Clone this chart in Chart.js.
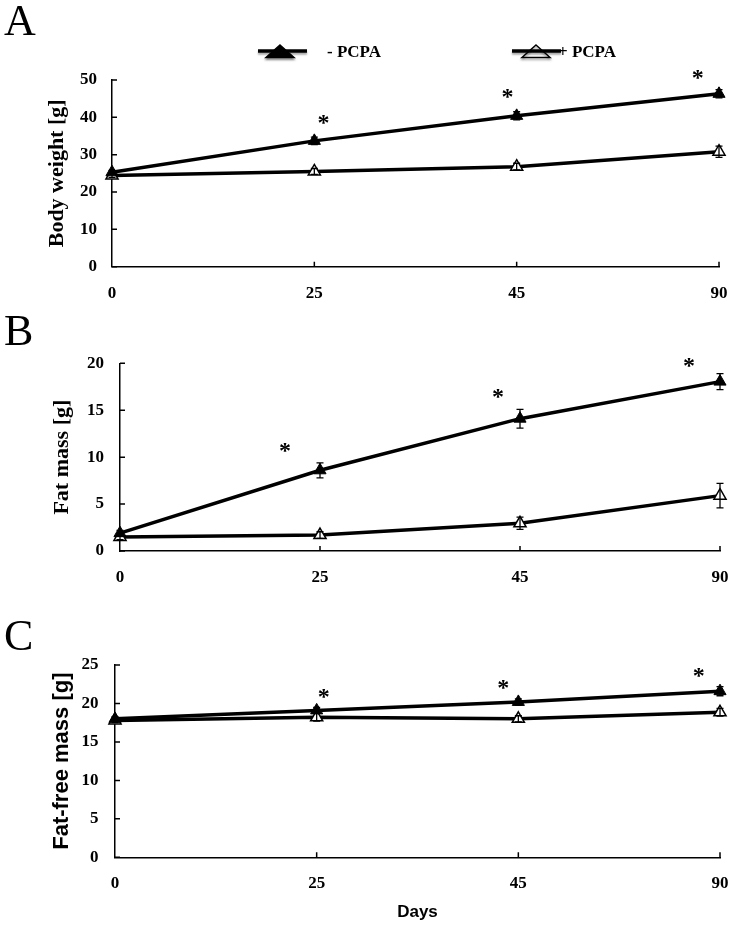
<!DOCTYPE html>
<html><head><meta charset="utf-8">
<script src="https://cdn.jsdelivr.net/npm/chart.js@4/dist/chart.umd.min.js"></script>
<style>
html,body{margin:0;padding:0;background:#fff}
body{width:745px;height:930px;position:relative;overflow:hidden}
canvas.p{position:absolute;left:0}
</style></head><body>
<canvas id="cA" class="p" style="top:0px" width="745" height="310"></canvas>
<canvas id="cB" class="p" style="top:310px" width="745" height="290"></canvas>
<canvas id="cC" class="p" style="top:600px" width="745" height="330"></canvas>
<script>
// ---- data ----
const days = ['0', '25', '45', '90'];
const seriesNames = ['- PCPA', '+ PCPA'];

const bodyWeightMinus   = [25.3, 33.7, 40.4, 46.3];
const bodyWeightMinusSE = [0.5, 1.0, 1.1, 1.1];
const bodyWeightPlus    = [24.4, 25.5, 26.8, 30.8];
const bodyWeightPlusSE  = [0.5, 0.8, 0.9, 1.5];
const bodyWeightStarX   = [1.04, 1.95, 2.89];
const bodyWeightStarY   = [39.3, 46.4, 51.4];

const fatMassMinus   = [1.9, 8.6, 14.1, 18.05];
const fatMassMinusSE = [0.3, 0.8, 1.0, 0.85];
const fatMassPlus    = [1.5, 1.7, 2.95, 5.9];
const fatMassPlusSE  = [0.3, 0.35, 0.65, 1.3];
const fatMassStarX   = [0.82, 1.885, 2.84];
const fatMassStarY   = [11.05, 16.8, 20.1];

const fatFreeMinus   = [18.0, 19.1, 20.2, 21.6];
const fatFreeMinusSE = [0.3, 0.4, 0.4, 0.6];
const fatFreePlus    = [17.8, 18.2, 18.0, 18.85];
const fatFreePlusSE  = [0.3, 0.5, 0.4, 0.5];
const fatFreeStarX   = [1.03, 1.92, 2.89];
const fatFreeStarY   = [21.3, 22.4, 24.05];

const SERIF = "'Liberation Serif', 'Times New Roman', serif";
const SANS = "'Liberation Sans', Arial, sans-serif";

// ---- plugins ----
const errorBarPlugin = {
  id: 'errorBars',
  afterDatasetsDraw(chart) {
    const ctx = chart.ctx, y = chart.scales.y;
    chart.data.datasets.forEach((ds, di) => {
      if (!ds.errors) return;
      const meta = chart.getDatasetMeta(di);
      ctx.save();
      ctx.strokeStyle = '#000'; ctx.lineWidth = 1.3;
      meta.data.forEach((pt, i) => {
        const v = ds.data[i].y, e = ds.errors[i];
        const yt = y.getPixelForValue(v + e), yb = y.getPixelForValue(v - e);
        ctx.beginPath();
        ctx.moveTo(pt.x, yt); ctx.lineTo(pt.x, yb);
        ctx.moveTo(pt.x - 3.5, yt); ctx.lineTo(pt.x + 3.5, yt);
        ctx.moveTo(pt.x - 3.5, yb); ctx.lineTo(pt.x + 3.5, yb);
        ctx.stroke();
      });
      ctx.restore();
    });
  }
};

const inwardTicksPlugin = {
  id: 'inwardTicks',
  afterDraw(chart) {
    const ctx = chart.ctx, a = chart.chartArea, x = chart.scales.x, y = chart.scales.y;
    ctx.save();
    ctx.strokeStyle = '#000'; ctx.lineWidth = 1.5;
    ctx.beginPath();
    y.ticks.forEach(t => {
      const py = y.getPixelForValue(t.value);
      ctx.moveTo(a.left, py); ctx.lineTo(a.left + 5, py);
    });
    x.ticks.forEach(t => {
      if (t.value === 0) return;
      const px = x.getPixelForValue(t.value);
      ctx.moveTo(px, a.bottom); ctx.lineTo(px, a.bottom - 5);
    });
    ctx.stroke();
    ctx.restore();
  }
};

const starsPlugin = {
  id: 'stars',
  afterDatasetsDraw(chart, args, opts) {
    if (!opts || !opts.xs) return;
    const ctx = chart.ctx, x = chart.scales.x, y = chart.scales.y;
    ctx.save();
    ctx.fillStyle = '#000';
    ctx.font = 'bold 24px ' + SERIF;
    ctx.textAlign = 'left'; ctx.textBaseline = 'alphabetic';
    const m = ctx.measureText('*');
    const cx = (m.actualBoundingBoxRight - m.actualBoundingBoxLeft) / 2 - m.actualBoundingBoxRight;
    const cy = (m.actualBoundingBoxAscent - m.actualBoundingBoxDescent) / 2;
    opts.xs.forEach((sx, i) => {
      const px = x.getPixelForValue(sx), py = y.getPixelForValue(opts.ys[i]);
      ctx.fillText('*', px + cx, py + cy);
    });
    ctx.restore();
  }
};

const decorPlugin = {
  id: 'decor',
  afterDraw(chart, args, opts) {
    const ctx = chart.ctx;
    ctx.save();
    ctx.fillStyle = '#000';
    ctx.font = '44px ' + SERIF;
    ctx.textBaseline = 'alphabetic'; ctx.textAlign = 'left';
    ctx.fillText(opts.letter, 4, opts.letterBaseline);
    if (opts.legend) {
      const items = [
        {x0: 258, x1: 307, tx: 280, filled: true, textX: 327, text: seriesNames[0]},
        {x0: 512, x1: 561, tx: 536, filled: false, textX: 558, text: seriesNames[1]}
      ];
      items.forEach(it => {
        ctx.save();
        ctx.shadowColor = 'rgba(0,0,0,0.35)'; ctx.shadowBlur = 2; ctx.shadowOffsetY = 2;
        ctx.strokeStyle = '#000'; ctx.lineWidth = 3.5;
        ctx.beginPath(); ctx.moveTo(it.x0, 51); ctx.lineTo(it.x1, 51); ctx.stroke();
        ctx.beginPath();
        ctx.moveTo(it.tx, 45); ctx.lineTo(it.tx + 14, 57.5); ctx.lineTo(it.tx - 14, 57.5); ctx.closePath();
        if (it.filled) { ctx.fillStyle = '#000'; ctx.fill(); }
        ctx.lineWidth = 1.5; ctx.stroke();
        ctx.restore();
        ctx.font = 'bold 17px ' + SERIF;
        ctx.fillText(it.text, it.textX, 56.5);
      });
    }
    ctx.restore();
  }
};

function makePanel(id, g) {
  const canvas = document.getElementById(id);
  const H = canvas.height, W = canvas.width;
  const toPts = arr => arr.map((v, i) => ({x: i, y: v}));
  const tickFont = {family: SERIF, size: 17, weight: 'bold'};
  new Chart(canvas, {
    type: 'line',
    data: {
      datasets: [
        {label: seriesNames[0], data: toPts(g.minus), errors: g.minusSE,
         borderColor: '#000', borderWidth: 3.5, pointStyle: 'triangle', pointRadius: 7,
         pointBackgroundColor: '#000', pointBorderColor: '#000', pointBorderWidth: 1, tension: 0, clip: false},
        {label: seriesNames[1], data: toPts(g.plus), errors: g.plusSE,
         borderColor: '#000', borderWidth: 3.5, pointStyle: 'triangle', pointRadius: 7,
         pointBackgroundColor: '#fff', pointBorderColor: '#000', pointBorderWidth: 1.5, tension: 0, clip: false}
      ]
    },
    options: {
      responsive: false, animation: false, events: [],
      layout: {padding: {top: g.top, right: W - g.right, left: 0, bottom: 0}},
      plugins: {
        legend: {display: false}, tooltip: {enabled: false},
        stars: {xs: g.starX, ys: g.starY},
        decor: {letter: g.letter, letterBaseline: g.letterBaseline, legend: !!g.legend}
      },
      scales: {
        x: {
          type: 'linear', min: 0, max: 3,
          afterFit(s) { s.height = H - g.bottom; },
          ticks: {stepSize: 1, autoSkip: false, maxRotation: 0, color: '#000', font: tickFont,
                  padding: 16.5, callback: v => days[v]},
          grid: {display: false, drawTicks: false},
          border: {display: true, color: '#000', width: 1.5},
          title: g.xTitle ? {display: true, text: g.xTitle, color: '#000',
                  font: {family: SANS, size: 17, weight: 'bold'}, padding: {top: 0, bottom: g.xTitlePad}} : {display: false}
        },
        y: {
          min: 0, max: g.yMax,
          afterFit(s) { s.width = g.left; },
          ticks: {stepSize: g.yStep, color: '#000', font: tickFont, padding: g.yPad},
          grid: {display: false, drawTicks: false},
          border: {display: true, color: '#000', width: 1.5},
          title: {display: true, text: g.yTitle, color: '#000',
                  font: {family: g.yTitleFamily, size: 22, weight: 'bold'},
                  padding: {top: g.yTitleX - 13.2, bottom: 0}}
        }
      }
    },
    plugins: [errorBarPlugin, inwardTicksPlugin, starsPlugin, decorPlugin]
  });
}

makePanel('cA', {
  top: 80, bottom: 266.7, left: 112, right: 719, yMax: 50, yStep: 10, yPad: 15,
  yTitle: 'Body weight [g]', yTitleFamily: SERIF, yTitleX: 57,
  minus: bodyWeightMinus, minusSE: bodyWeightMinusSE, plus: bodyWeightPlus, plusSE: bodyWeightPlusSE,
  starX: bodyWeightStarX, starY: bodyWeightStarY, letter: 'A', letterBaseline: 35, legend: true
});
makePanel('cB', {
  top: 53.3, bottom: 241, left: 120, right: 721, yMax: 20, yStep: 5, yPad: 16,
  yTitle: 'Fat mass [g]', yTitleFamily: SERIF, yTitleX: 62,
  minus: fatMassMinus, minusSE: fatMassMinusSE, plus: fatMassPlus, plusSE: fatMassPlusSE,
  starX: fatMassStarX, starY: fatMassStarY, letter: 'B', letterBaseline: 35
});
makePanel('cC', {
  top: 65, bottom: 257.3, left: 115, right: 731.7, yMax: 25, yStep: 5, yPad: 16.5,
  yTitle: 'Fat-free mass [g]', yTitleFamily: SANS, yTitleX: 62,
  minus: fatFreeMinus, minusSE: fatFreeMinusSE, plus: fatFreePlus, plusSE: fatFreePlusSE,
  starX: fatFreeStarX, starY: fatFreeStarY, letter: 'C', letterBaseline: 50,
  xTitle: 'Days', xTitlePad: 7
});
</script>
</body></html>
